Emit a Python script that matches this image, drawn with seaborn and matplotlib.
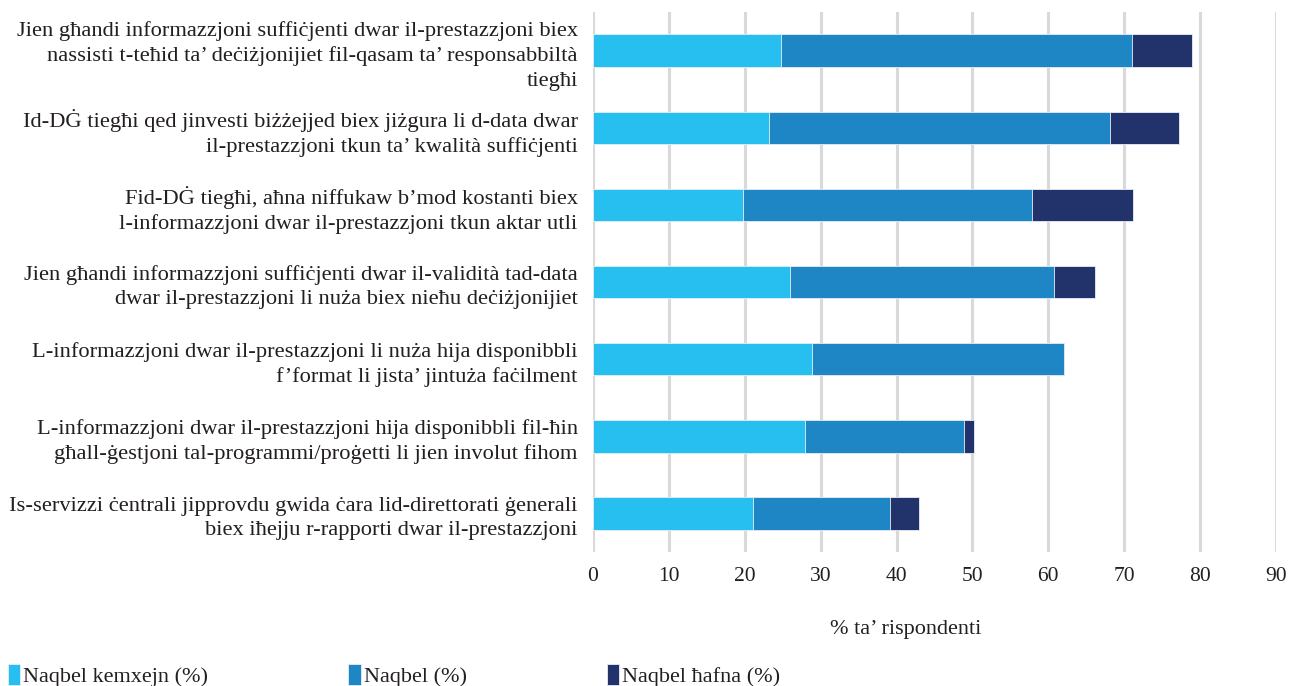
import matplotlib
matplotlib.use("Agg")
import matplotlib.pyplot as plt
import seaborn as sns
import numpy as np
import pandas as pd
from matplotlib.patches import Patch

categories = [
    "Jien għandi informazzjoni suffiċjenti dwar il-prestazzjoni biex\nnassisti t-teħid ta’ deċiżjonijiet fil-qasam ta’ responsabbiltà\ntiegħi",
    "Id-DĠ tiegħi qed jinvesti biżżejjed biex jiżgura li d-data dwar\nil-prestazzjoni tkun ta’ kwalità suffiċjenti",
    "Fid-DĠ tiegħi, aħna niffukaw b’mod kostanti biex\nl-informazzjoni dwar il-prestazzjoni tkun aktar utli",
    "Jien għandi informazzjoni suffiċjenti dwar il-validità tad-data\ndwar il-prestazzjoni li nuża biex nieħu deċiżjonijiet",
    "L-informazzjoni dwar il-prestazzjoni li nuża hija disponibbli\nf’format li jista’ jintuża faċilment",
    "L-informazzjoni dwar il-prestazzjoni hija disponibbli fil-ħin\ngħall-ġestjoni tal-programmi/proġetti li jien involut fihom",
    "Is-servizzi ċentrali jipprovdu gwida ċara lid-direttorati ġenerali\nbiex iħejju r-rapporti dwar il-prestazzjoni",
]
naqbel_kemxejn = [24.8, 23.2, 19.8, 26.0, 28.9, 28.0, 21.1]
naqbel = [46.2, 44.9, 38.1, 34.8, 33.1, 20.9, 18.0]
naqbel_hafna = [7.9, 9.1, 13.2, 5.4, 0.0, 1.3, 3.8]
series_names = ["Naqbel kemxejn (%)", "Naqbel (%)", "Naqbel ħafna (%)"]
colors = ["#27BFF0", "#1F86C6", "#22336B"]
x_ticks = [0, 10, 20, 30, 40, 50, 60, 70, 80, 90]

df = pd.DataFrame({"cat": categories, "s1": naqbel_kemxejn, "s2": naqbel, "s3": naqbel_hafna})
df["c1"] = df["s1"]
df["c2"] = df["s1"] + df["s2"]
df["c3"] = df["c2"] + df["s3"]

sns.set_theme(style="white")
plt.rcParams["font.family"] = ["Liberation Serif", "DejaVu Serif"]

fig = plt.figure(figsize=(12.91, 6.86), dpi=100)
ax = fig.add_axes([0.4593, 0.1953, 0.5291, 0.7872])

for col, c in zip(["c3", "c2", "c1"], colors[::-1]):
    sns.barplot(data=df, x=col, y="cat", orient="h", color=c, width=0.42,
                edgecolor="#E8EEF6", linewidth=0.6, ax=ax, saturation=1)

ax.set_xlim(0, 90)
ax.set_ylim(6.5, -0.5)
ax.set_xticks(x_ticks)
ax.set_xticklabels([str(t) for t in x_ticks])
ax.xaxis.grid(True, color="#D9D9D9", linewidth=2.2)
ax.yaxis.grid(False)
ax.set_axisbelow(True)
for s in ax.spines.values():
    s.set_visible(False)
ax.tick_params(axis="y", length=0, pad=11, labelsize=16.2, colors="#231F20")
ax.tick_params(axis="x", length=0, pad=11, labelsize=15.5, colors="#231F20")
for lbl in ax.get_yticklabels():
    lbl.set_linespacing(1.38)
ax.set_ylabel("")
ax.set_xlabel("% ta’ rispondenti", fontsize=16, color="#231F20")
ax.xaxis.set_label_coords(0.458, -0.125)

handles = [Patch(facecolor=c, edgecolor="#E8EEF6", linewidth=0.6) for c in colors]
fig.legend(handles, series_names, loc="center left", bbox_to_anchor=(0.006, 0.015),
           ncol=3, frameon=False, fontsize=16, handlelength=0.55, handleheight=1.1,
           handletextpad=0.15, columnspacing=6.3, borderpad=0, borderaxespad=0,
           labelcolor="#231F20")

fig.savefig("out.png", dpi=100)
